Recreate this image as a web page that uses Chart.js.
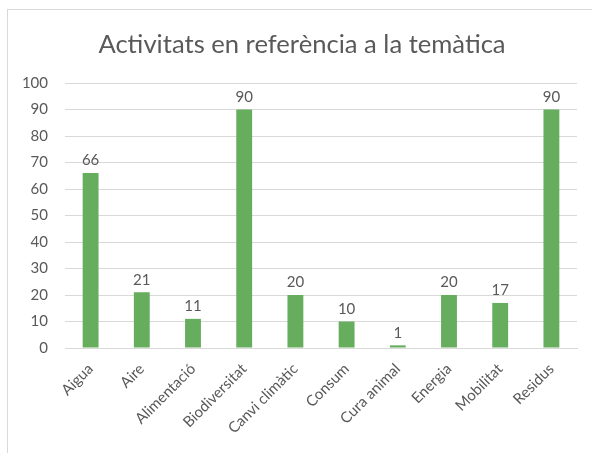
<!DOCTYPE html>
<html>
<head>
<meta charset="utf-8">
<script src="https://cdn.jsdelivr.net/npm/chart.js@4"></script>
<style>
    body { margin: 0; background: #fff; }
    #frame { position: absolute; left: 7px; top: 9px; width: 600px; height: 460px; border: 1px solid #d9d9d9; }
    #wrap { position: absolute; left: 0; top: 0; width: 592px; height: 453px; }
</style>
</head>
<body>
<div id="frame"></div>
<div id="wrap"><canvas id="chart"></canvas></div>
<script>
// Activitats per temàtica
const categories = ['Aigua', 'Aire', 'Alimentació', 'Biodiversitat', 'Canvi climàtic', 'Consum', 'Cura animal', 'Energia', 'Mobilitat', 'Residus'];
const values = [66, 21, 11, 90, 20, 10, 1, 20, 17, 90];
const yTicks = [0, 10, 20, 30, 40, 50, 60, 70, 80, 90, 100];
const titleText = 'Activitats en referència a la temàtica';

const textColor = '#595959';
const fontFamily = 'Lato, "Open Sans", sans-serif';

// value labels above the bars + title centred over the whole frame
const barLabels = {
    id: 'barLabels',
    afterDatasetsDraw(chart) {
        const ctx = chart.ctx;
        const meta = chart.getDatasetMeta(0);
        ctx.save();
        ctx.fillStyle = textColor;
        ctx.font = '15px ' + fontFamily;
        ctx.textAlign = 'center';
        ctx.textBaseline = 'bottom';
        meta.data.forEach((bar, i) => {
            ctx.fillText(values[i], bar.x, bar.y - 5);
        });

        ctx.font = '25.6px ' + fontFamily;
        ctx.textBaseline = 'middle';
        ctx.fillText(titleText, 302, 44.5);
        ctx.restore();
    }
};

new Chart(document.getElementById('chart'), {
    type: 'bar',
    data: {
        labels: categories,
        datasets: [{
            data: values,
            backgroundColor: '#66ad5e',
            categoryPercentage: 1,
            barPercentage: 0.31
        }]
    },
    options: {
        responsive: true,
        maintainAspectRatio: false,
        animation: false,
        layout: { padding: { left: 0, right: 15, top: 83, bottom: 0 } },
        plugins: {
            legend: { display: false },
            tooltip: { enabled: false },
            title: { display: false }
        },
        scales: {
            x: {
                grid: { display: false },
                border: { color: '#d9d9d9' },
                ticks: {
                    color: textColor,
                    font: { family: fontFamily, size: 15 },
                    minRotation: 45,
                    maxRotation: 45,
                    autoSkip: false,
                    padding: 4
                },
                afterFit(scale) { scale.height = 105; }
            },
            y: {
                min: 0,
                max: 100,
                afterBuildTicks(scale) { scale.ticks = yTicks.map(v => ({ value: v })); },
                grid: { color: '#d9d9d9', drawTicks: false },
                border: { display: false },
                ticks: {
                    color: textColor,
                    font: { family: fontFamily, size: 15 },
                    padding: 17
                },
                afterFit(scale) { scale.width = 65; }
            }
        }
    },
    plugins: [barLabels]
});
</script>
</body>
</html>
